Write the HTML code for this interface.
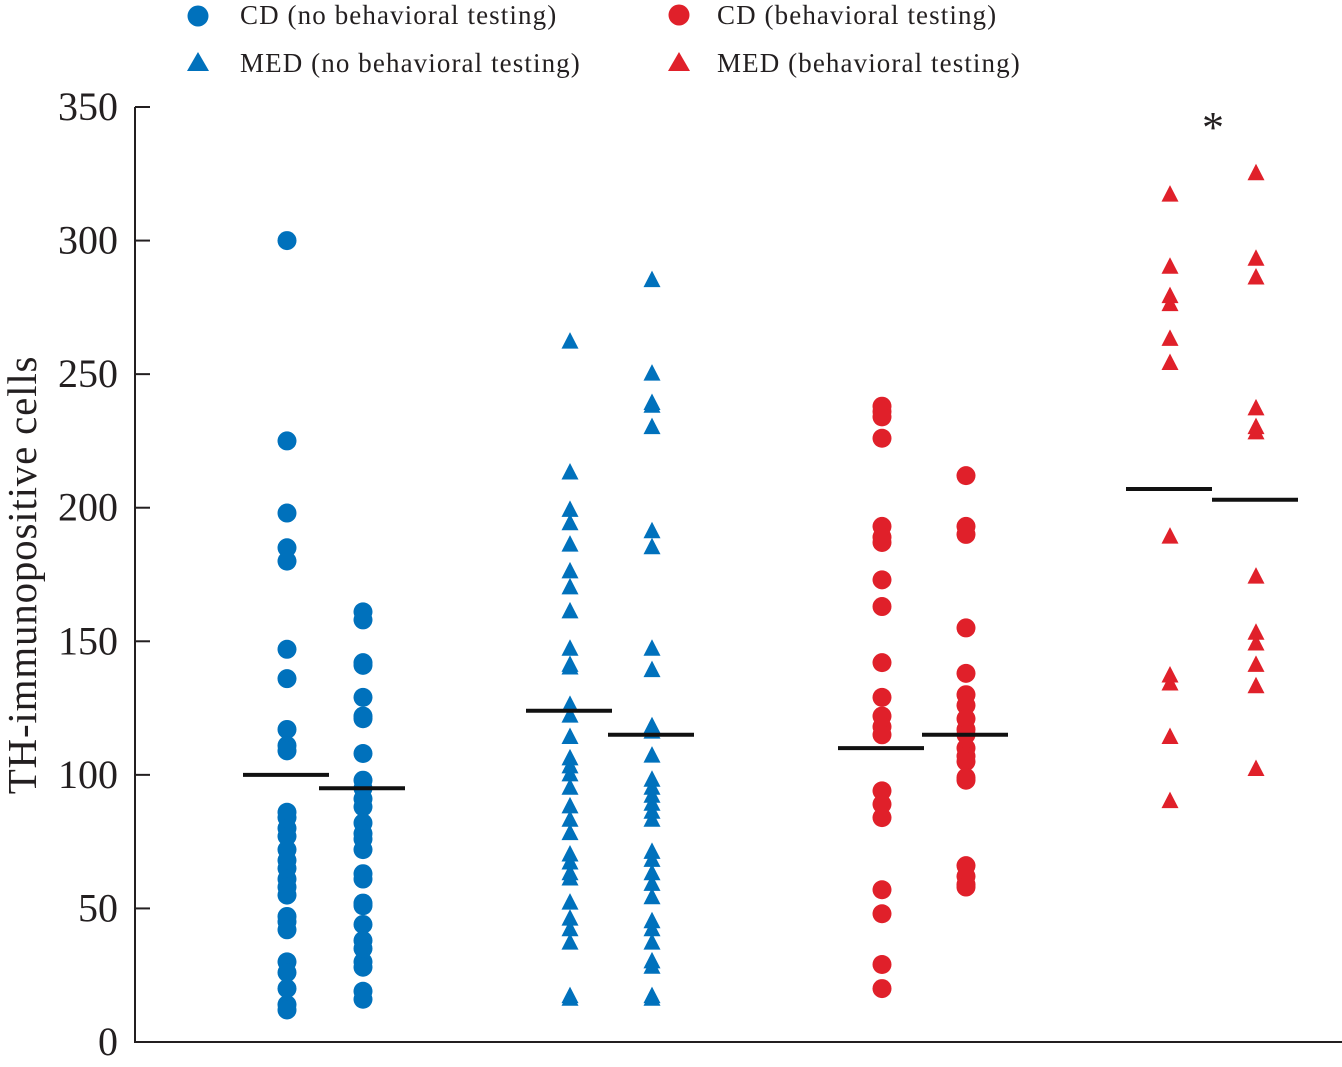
<!DOCTYPE html>
<html><head><meta charset="utf-8"><style>
html,body{margin:0;padding:0;background:#fff;}
svg{display:block;}
text{font-family:"Liberation Serif",serif;fill:#231f20;}
</style></head><body>
<svg id="chart" width="1342" height="1067" viewBox="0 0 1342 1067" xmlns="http://www.w3.org/2000/svg">
<g id="legend">
  <g>
    <circle cx="198" cy="16" r="10.5" fill="#0071bc"/>
    <text x="240" y="24" font-size="27" letter-spacing="1.1">CD (no behavioral testing)</text>
  </g>
  <g>
    <polygon points="198,52 209,71 187,71" fill="#0071bc"/>
    <text x="240" y="72" font-size="27" letter-spacing="1.1">MED (no behavioral testing)</text>
  </g>
  <g>
    <circle cx="679" cy="15" r="10.5" fill="#e0202a"/>
    <text x="717" y="24" font-size="27" letter-spacing="1.1">CD (behavioral testing)</text>
  </g>
  <g>
    <polygon points="679,52 690,71 668,71" fill="#e0202a"/>
    <text x="717" y="72" font-size="27" letter-spacing="1.1">MED (behavioral testing)</text>
  </g>
</g>
<g id="axes"></g>
<g id="marks"></g>
<g id="means"></g>
<text x="1213" y="142" font-size="44" text-anchor="middle">*</text>
<text transform="translate(36,575) rotate(-90)" font-size="41" letter-spacing="0.8" text-anchor="middle">TH-immunopositive cells</text>
</svg>
<script>
const yTicks = [0,50,100,150,200,250,300,350];
const groupNames = ["cd-nobeh-1","cd-nobeh-2","med-nobeh-1","med-nobeh-2","cd-beh-1","cd-beh-2","med-beh-1","med-beh-2"];
const groupShapes = ["circle","circle","triangle","triangle","circle","circle","triangle","triangle"];
const groupColors = ["#0071bc","#0071bc","#0071bc","#0071bc","#e0202a","#e0202a","#e0202a","#e0202a"];
const g1 = [300,225,198,185,180,147,136,117,111,109,86,84,80,77,72,68,65,61,58,55,47,45,42,30,26,20,14,12];
const g2 = [161,158,142,141,129,122,121,108,98,95,91,88,82,78,76,72,63,61,52,51,44,38,35,30,28,19,16];
const g3 = [262,213,199,194,186,176,170,161,147,141,140,126,122,114,106,103,100,95,88,83,78,70,67,63,61,52,46,42,37,17,16];
const g4 = [285,250,239,238,230,191,185,147,139,118,116,107,98,95,92,89,86,83,71,68,63,59,54,45,42,37,30,28,17,16];
const g5 = [238,236,234,226,193,189,187,173,163,142,129,122,118,115,94,89,84,57,48,29,20];
const g6 = [212,193,190,155,138,130,126,121,117,115,110,107,105,99,98,66,62,59,58];
const g7 = [317,290,279,276,263,254,189,137,134,114,90];
const g8 = [325,293,286,237,230,228,174,153,149,141,133,102];
const groupValues = [g1,g2,g3,g4,g5,g6,g7,g8];
const groupMeans = [100,95,124,115,110,115,207,203];

const NS="http://www.w3.org/2000/svg";
const yPx = v => 1042 - v*(935/350);
const xCenters = [287,363,570,652,882,966,1170,1256];
const xPx = i => xCenters[i];
function mk(tag, attrs, parent){const e=document.createElementNS(NS,tag);for(const k in attrs)e.setAttribute(k,attrs[k]);parent.appendChild(e);return e;}

const axes=document.getElementById('axes');
let l=mk('line',{x1:135,y1:107,x2:135,y2:1043,stroke:'#231f20','stroke-width':2},axes);


l=mk('line',{x1:134,y1:1042,x2:1342,y2:1042,stroke:'#231f20','stroke-width':2},axes);


yTicks.forEach(t=>{
  const y=yPx(t);
  const tk=mk('line',{x1:135,y1:y,x2:150,y2:y,stroke:'#231f20','stroke-width':2},axes);
  
  
  const tx=mk('text',{x:118,y:y+13,'font-size':40,'text-anchor':'end'},axes);
  tx.textContent=t;
  
  
});

const marks=document.getElementById('marks');
groupValues.forEach((vals,i)=>{
  const x=xPx(i);
  vals.forEach(v=>{
    const y=yPx(v);
    let m;
    if(groupShapes[i]==='circle'){
      m=mk('circle',{cx:x,cy:y,r:9.5,fill:groupColors[i]},marks);
    } else {
      m=mk('polygon',{points:`${x},${y-10} ${x+8.5},${y+6.5} ${x-8.5},${y+6.5}`,fill:groupColors[i]},marks);
    }
    
    
  });
});

const means=document.getElementById('means');
groupMeans.forEach((v,i)=>{
  const x=xPx(i), y=yPx(v);
  const ln=mk('line',{x1:x-44,y1:y,x2:x+42,y2:y,stroke:'#111','stroke-width':4},means);
  
  
});
</script>
</body></html>
